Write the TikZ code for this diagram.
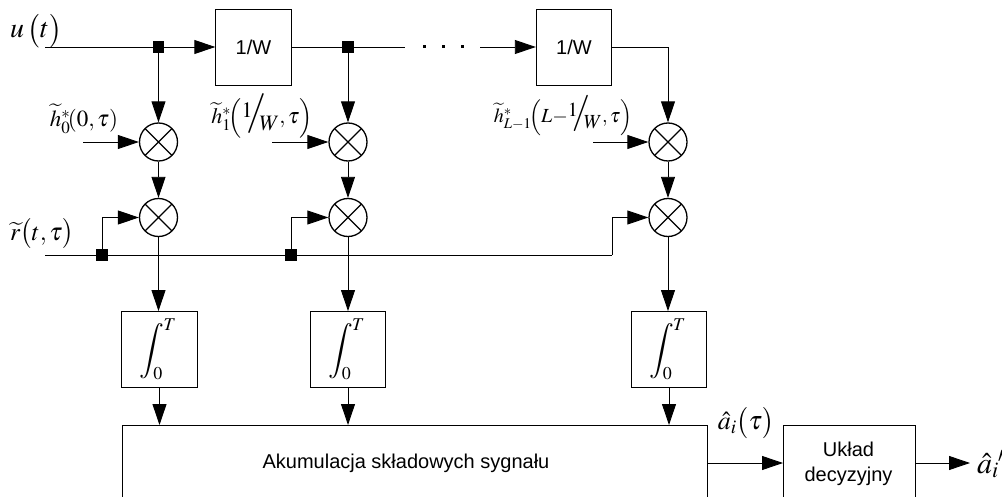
\documentclass[tikz,border=0pt]{standalone}
\usepackage{mathptmx}
\usepackage{amsmath}
\usepackage{fontspec}
\setsansfont{Liberation Sans}
\usetikzlibrary{arrows.meta,calc}
\DeclareSymbolFont{cmlarge}{OMX}{cmex}{m}{n}
\DeclareMathSymbol{\cmint}{\mathop}{cmlarge}{"5A}
\newcommand{\fs}[1]{\fontsize{#1}{#1}\selectfont}
\newcommand{\slashfrac}[2]{\raisebox{0.3em}{$#1$}\hspace{-0.3em}\resizebox{!}{1.35em}{$/$}\hspace{-0.3em}\raisebox{-0.3em}{$#2$}}
\newcommand{\intbox}{$\cmint\nolimits_{\raisebox{0pt}{\fs{18}$0$}}^{\hspace{-1pt}\raisebox{0pt}{\fs{18}$T$}}$}
\tikzset{
  wire/.style={line width=0.9pt,draw=black},
  arr/.style={wire,-{Triangle[length=21pt,width=14pt]}},
  blockbox/.style={draw=black,line width=0.9pt,minimum width=75.5pt,minimum height=76pt,inner sep=0pt,font=\sffamily\fs{20}},
  bigbox/.style={draw=black,line width=0.9pt,inner sep=0pt},
  junction/.style={fill=black,inner sep=0pt,minimum size=11.5pt},
  dotmark/.style={fill=black,inner sep=0pt,minimum size=3pt},
  mult/.style={circle,draw=black,line width=1.3pt,minimum size=38pt,inner sep=0pt,
    path picture={\draw[line width=1.3pt] (path picture bounding box.south west)--(path picture bounding box.north east)
      (path picture bounding box.north west)--(path picture bounding box.south east);}},
  lab/.style={inner sep=0pt},
  intlab/.style={inner sep=0pt,font=\fs{24}},
  plain/.style={inner sep=0pt,font=\sffamily\fs{20},align=center}
}
\begin{document}
\begin{tikzpicture}[x=1pt,y=-1pt]
\useasboundingbox (0,0) rectangle (1002,497);
\clip (0,0) rectangle (1002,497);
% top row
\coordinate (us) at (45,47);
\node[junction] (j1) at (158.5,47) {};
\node[blockbox] (b1) at (253.5,47) {1/W};
\node[junction] (j2) at (348,47) {};
\coordinate (g1) at (405,47);
\node[dotmark] (d1) at (424,47) {};
\node[dotmark] (d2) at (443,47) {};
\node[dotmark] (d3) at (462,47) {};
\coordinate (g2) at (480,47);
\node[blockbox] (b2) at (574,47) {1/W};
% multipliers
\node[mult] (m1) at (158.5,142) {};
\node[mult] (m2) at (158.5,217.5) {};
\node[mult] (m3) at (348,142) {};
\node[mult] (m4) at (348,217.5) {};
\node[mult] (m5) at (668,142) {};
\node[mult] (m6) at (668,217.5) {};
% integrators
\node[blockbox] (i1) at (159.5,349.5) {};
\node[blockbox] (i2) at (348,349.5) {};
\node[blockbox] (i3) at (669,349.5) {};
\node[intlab] (t1) at (158,349) {\intbox};
\node[intlab] (t2) at (346.5,349) {\intbox};
\node[intlab] (t3) at (667.5,349) {\intbox};
% bottom boxes
\node[bigbox,minimum width=585pt,minimum height=90pt,anchor=north west] (acc) at (122,425) {};
\node[bigbox,minimum width=132pt,minimum height=90pt,anchor=north west] (dec) at (783,425) {};
\node[plain] (acct) at (406,463) {Akumulacja składowych sygnału};
\node[plain] (dect) at (848.5,464) {Układ\\[5pt]decyzyjny};
% input coordinates
\coordinate (h1) at (83,142);
\coordinate (h2) at (272,142);
\coordinate (h3) at (593,142);
\coordinate (rs) at (45,255);
\node[junction] (j3) at (102,255) {};
\node[junction] (j4) at (291,255) {};
\coordinate (rc) at (612,255);
\coordinate (o1) at (707,463);
\coordinate (o2) at (783,463);
\coordinate (o3) at (915,463);
\coordinate (o4) at (970,463);
% wires
\draw[wire] (us)--(j1);
\draw[arr] (j1)--(b1.west);
\draw[wire] (b1.east)--(g1);
\draw[arr] (g2)--(b2.west);
\draw[arr] (b2.east)-|(m5.north);
\draw[arr] (j1)--(m1.north);
\draw[arr] (j2)--(m3.north);
\draw[arr] (m1)--(m2.north);
\draw[arr] (m3)--(m4.north);
\draw[arr] (m5)--(m6.north);
\draw[arr] (h1)--(m1.west);
\draw[arr] (h2)--(m3.west);
\draw[arr] (h3)--(m5.west);
\draw[wire] (rs)--(rc);
\draw[arr] (j3)|-(m2.west);
\draw[arr] (j4)|-(m4.west);
\draw[arr] (rc)|-(m6.west);
\draw[arr] (m2.south)--(m2.south|-i1.north);
\draw[arr] (m4.south)--(m4.south|-i2.north);
\draw[arr] (m6.south)--(m6.south|-i3.north);
\draw[arr] (i1.south)--(i1.south|-acc.north);
\draw[arr] (i2.south)--(i2.south|-acc.north);
\draw[arr] (i3.south)--(i3.south|-acc.north);
\draw[arr] (o1)--(o2);
\draw[arr] (o3)--(o4);
% labels
\node[lab,font=\fs{28},anchor=base] (lu) at (36,38) {$u\,\bigl(t\bigr)$};
\node[lab,font=\fs{23}] (l1) at (84,119) {$\widetilde{h}_{0}^{*}\!(0,\tau)$};
\node[lab,font=\fs{22}] (l2) at (262,116) {$\widetilde{h}_{1}^{*}\!\Bigl(\slashfrac{1}{W},\tau\Bigr)$};
\node[lab,font=\fs{20}] (l3) at (563,116) {$\widetilde{h}_{L-1}^{*}\!\Bigl(L{-}\slashfrac{1}{W},\tau\Bigr)$};
\node[lab,font=\fs{25}] (lr) at (42,234) {$\widetilde{r}\bigl(t,\tau\bigr)$};
\node[lab,font=\fs{26}] (la) at (746,423) {$\hat{a}_{i}\bigl(\tau\bigr)$};
\node[lab,font=\fs{30},anchor=base west] (lo) at (977,473) {$\hat{a}_{i}$\hspace{-1pt}$'$};
\end{tikzpicture}
\end{document}
